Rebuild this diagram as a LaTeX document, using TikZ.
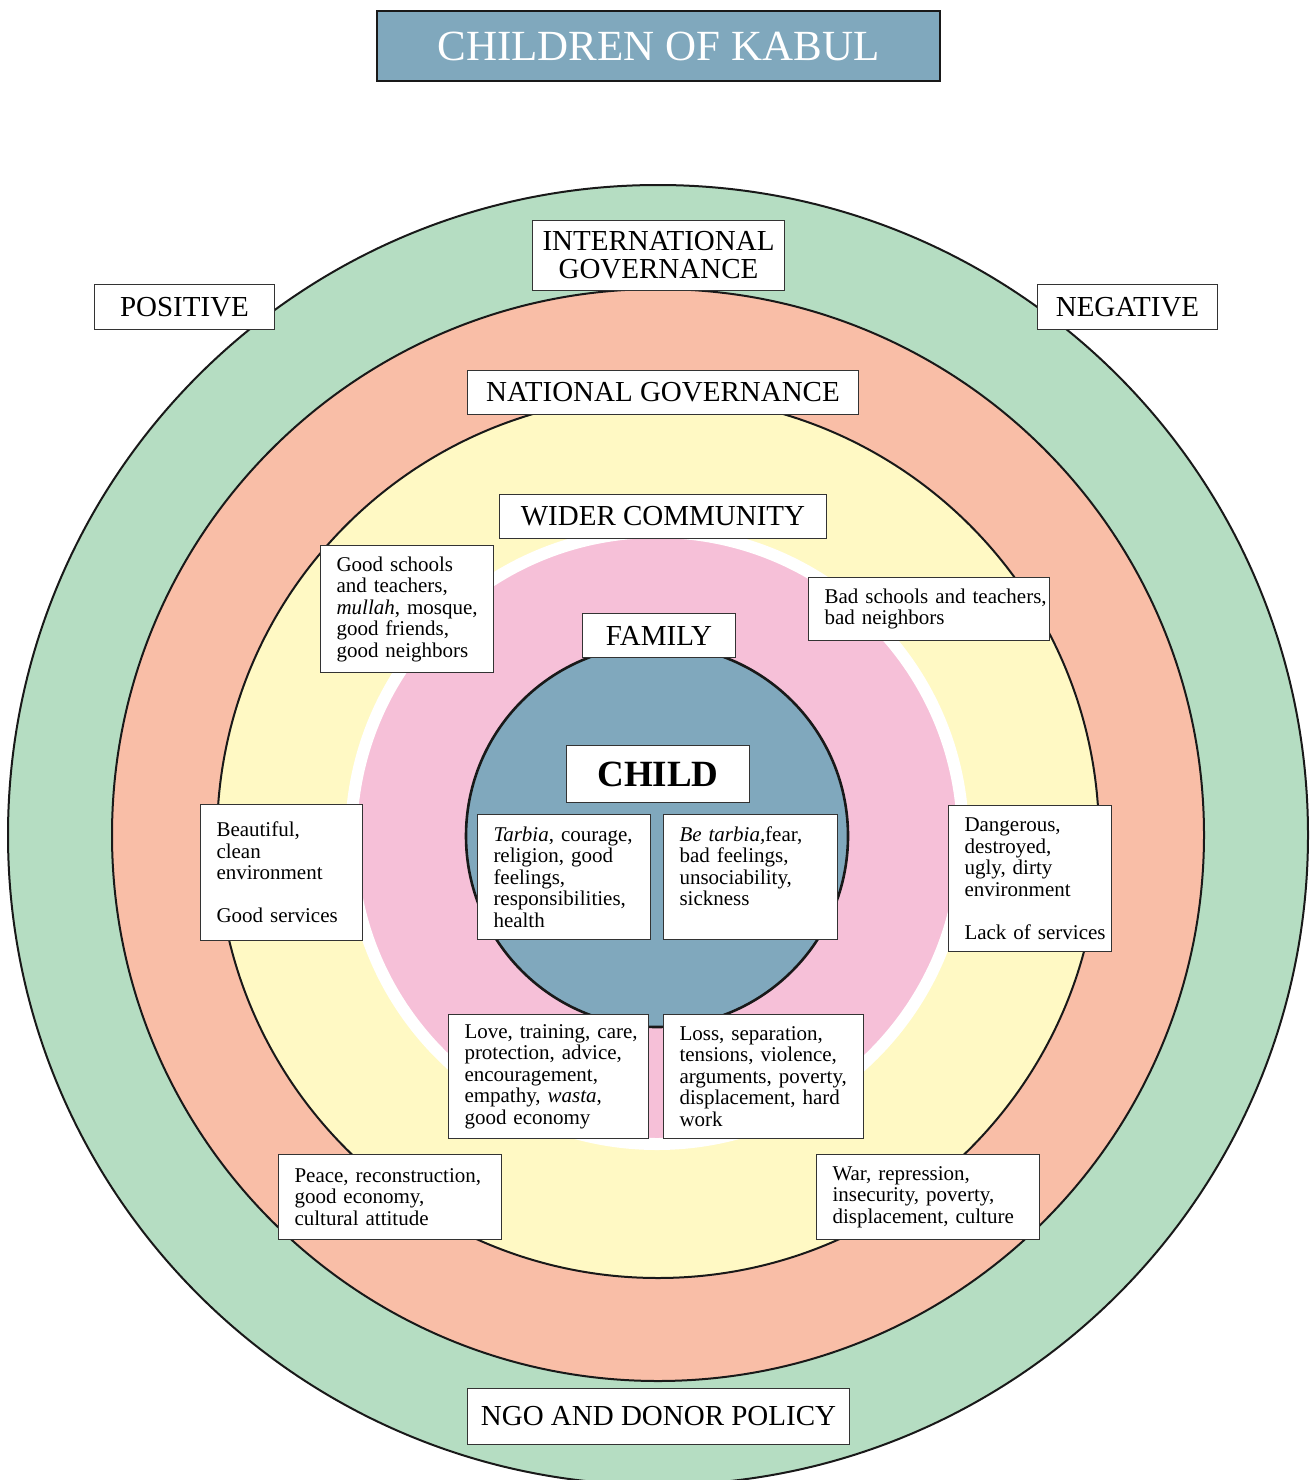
\documentclass[tikz,border=0pt]{standalone}
\usepackage{fontspec}
\setmainfont{Liberation Serif}
\definecolor{ringgreen}{RGB}{181,221,194}
\definecolor{ringsalmon}{RGB}{249,190,167}
\definecolor{ringyellow}{RGB}{255,249,196}
\definecolor{ringpink}{RGB}{246,192,216}
\definecolor{childblue}{RGB}{128,168,189}
\begin{document}
\begin{tikzpicture}[x=1pt,y=-1pt,
    ring/.style={draw=black!90,line width=2pt},
    lbl/.style={draw=black!80,line width=1pt,fill=white,inner sep=0pt,
      font=\fontsize{29}{28}\selectfont},
    info/.style={draw=black!80,line width=1pt,fill=white,anchor=north west,
      align=left,inner xsep=16pt,inner ysep=6pt,
      font=\fontsize{21}{21.5}\selectfont}]
  \useasboundingbox (0,0) rectangle (1310,1480);
  \fill[white] (0,0) rectangle (1310,1480);
  \draw[ring,fill=ringgreen] (658,835) circle (650pt);
  \draw[ring,fill=ringsalmon] (658,835) circle (546pt);
  \draw[ring,fill=ringyellow] (658,837) circle (441pt);
  \draw[white,line width=12pt,fill=ringpink] (657,838) circle (306pt);
  \draw[black!90,line width=2.6pt,fill=childblue] (657,836) circle (191pt);

  \node[draw=black!90,line width=2.5pt,fill=childblue,text=white,inner sep=0pt,
    font=\fontsize{43}{43}\selectfont,minimum width=563pt,minimum height=70pt]
    (title) at (658.5,46) {CHILDREN OF KABUL};

  \node[lbl,minimum width=180pt,minimum height=45pt] (positive) at (184.5,307) {POSITIVE};
  \node[lbl,minimum width=180pt,minimum height=45pt] (negative) at (1127.5,307) {NEGATIVE};
  \node[lbl,align=center,minimum width=252pt,minimum height=70pt] (intgov) at (658.5,255.5)
    {INTERNATIONAL\\GOVERNANCE};
  \node[lbl,minimum width=391pt,minimum height=44pt] (natgov) at (663,392.5) {NATIONAL GOVERNANCE};
  \node[lbl,minimum width=327pt,minimum height=44pt] (community) at (663,516.5) {WIDER COMMUNITY};
  \node[lbl,minimum width=153pt,minimum height=44pt] (family) at (659,635.5) {FAMILY};
  \node[lbl,font=\fontsize{37}{37}\selectfont\bfseries,minimum width=183pt,minimum height=57pt]
    (child) at (658,774) {CHILD};
  \node[lbl,minimum width=382pt,minimum height=56pt] (ngo) at (658.5,1416.5) {NGO AND DONOR POLICY};

  \node[info,text width=141pt,minimum height=127pt] (schoolgood) at (320,545)
    {Good schools\\and teachers,\\\mbox{\textit{mullah}, mosque,}\\good friends,\\good neighbors};
  \node[info,text width=209pt,minimum height=63pt] (schoolbad) at (808,577)
    {\mbox{Bad schools and teachers,}\\bad neighbors};
  \node[info,text width=130pt,minimum height=136pt] (envgood) at (200,804)
    {Beautiful,\\clean\\environment\\[21.5pt]\mbox{Good services}};
  \node[info,text width=131pt,minimum height=146pt] (envbad) at (948,805)
    {Dangerous,\\destroyed,\\ugly, dirty\\environment\\[21.5pt]\mbox{Lack of services}};
  \node[info,text width=141pt,minimum height=125pt] (childgood) at (477,814)
    {\mbox{\textit{Tarbia}, courage,}\\religion, good\\feelings,\\responsibilities,\\health};
  \node[info,text width=142pt,minimum height=125pt,inner ysep=12pt,text depth=86pt]
    (childbad) at (663,814)
    {\textit{Be tarbia,}fear,\\bad feelings,\\unsociability,\\sickness};
  \node[info,text width=168pt,minimum height=124pt] (famgood) at (448,1014)
    {\mbox{Love, training, care,}\\protection, advice,\\encouragement,\\empathy, \textit{wasta},\\good economy};
  \node[info,text width=168pt,minimum height=124pt] (fambad) at (663,1014)
    {Loss, separation,\\tensions, violence,\\\mbox{arguments, poverty,}\\displacement, hard\\work};
  \node[info,text width=191pt,minimum height=85pt] (natgood) at (278,1154)
    {\mbox{Peace, reconstruction,}\\good economy,\\cultural attitude};
  \node[info,text width=191pt,minimum height=85pt] (natbad) at (816,1154)
    {War, repression,\\insecurity, poverty,\\\mbox{displacement, culture}};
\end{tikzpicture}
\end{document}
